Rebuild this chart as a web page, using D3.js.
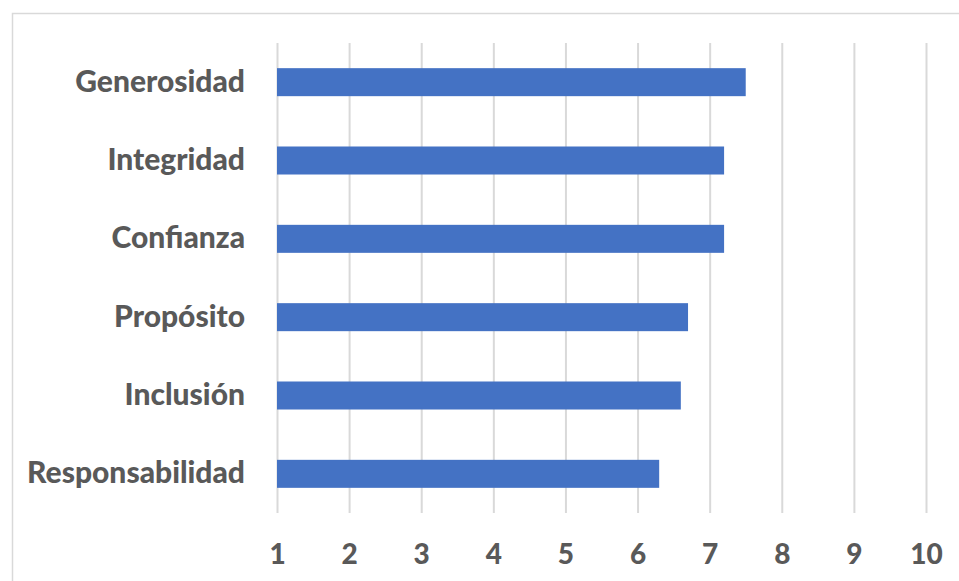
<!DOCTYPE html>
<html>
<head>
<meta charset="utf-8">
<script src="https://cdn.jsdelivr.net/npm/d3@7"></script>
<style>
html,body{margin:0;padding:0;background:#fff;}
svg{display:block;}
</style>
</head>
<body>
<svg id="chart" width="959" height="581"></svg>
<script>
const categories = ["Generosidad","Integridad","Confianza","Propósito","Inclusión","Responsabilidad"];
const values = [7.5, 7.2, 7.2, 6.7, 6.6, 6.3];
const tickValues = [1,2,3,4,5,6,7,8,9,10];

const svg = d3.select("#chart");
const font = "Lato, 'Open Sans', sans-serif";
const textColor = "#595959";

// chart area border (cropped on right and bottom)
svg.append("rect")
  .attr("x", 12.5).attr("y", 13.5)
  .attr("width", 1000).attr("height", 1000)
  .attr("fill", "none").attr("stroke", "#d9d9d9").attr("stroke-width", 1.5);

const x = d3.scaleLinear().domain([1, 10]).range([277, 926]);
const y = d3.scaleBand().domain(categories).range([43, 513])
  .paddingInner(0.6425).paddingOuter(0.32125);

// gridlines
const xAxis = d3.axisBottom(x).tickValues(tickValues).tickSize(-(513 - 43)).tickFormat(d3.format("d")).tickPadding(31);
const gx = svg.append("g").attr("transform", "translate(0,513)").call(xAxis);
gx.select(".domain").remove();
gx.selectAll(".tick line").attr("stroke", "#d9d9d9").attr("stroke-width", 2);
gx.selectAll(".tick text")
  .attr("fill", textColor).attr("font-family", font)
  .attr("font-weight", 900).attr("font-size", 28);

// bars
svg.append("g").selectAll("rect").data(categories).join("rect")
  .attr("x", x(1))
  .attr("y", d => y(d))
  .attr("width", (d, i) => x(values[i]) - x(1))
  .attr("height", y.bandwidth())
  .attr("fill", "#4472c4");

// category axis
const yAxis = d3.axisLeft(y).tickSize(0).tickPadding(32);
const gy = svg.append("g").attr("transform", `translate(${x(1)},0)`).call(yAxis);
gy.select(".domain").remove();
gy.selectAll(".tick text")
  .attr("fill", textColor).attr("font-family", font)
  .attr("font-weight", 900).attr("font-size", 30);
</script>
</body>
</html>
